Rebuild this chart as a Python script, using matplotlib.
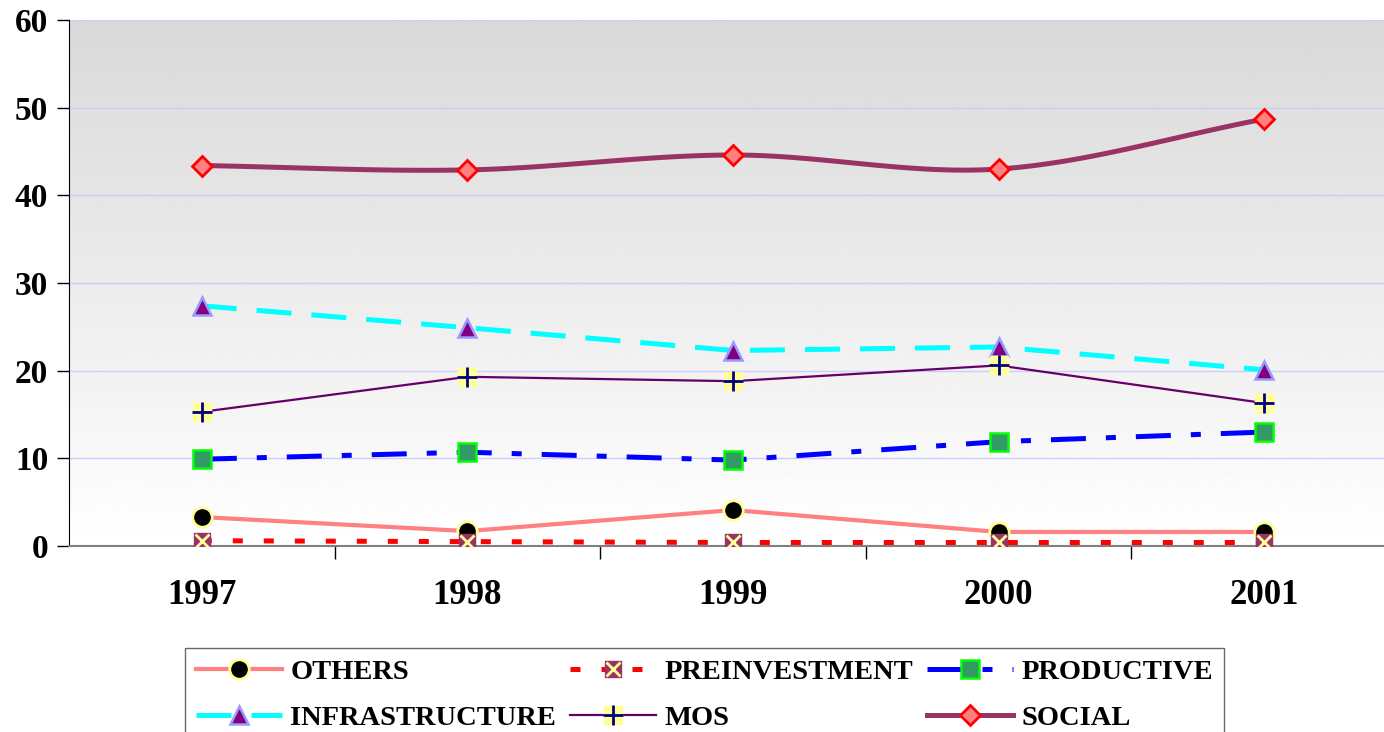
import numpy as np
import matplotlib.pyplot as plt

plt.rcParams['font.family'] = ['Liberation Serif', 'DejaVu Serif']
plt.rcParams['font.weight'] = 'bold'

# ===== Data =====
years = ['1997', '1998', '1999', '2000', '2001']
others = [3.3, 1.7, 4.1, 1.6, 1.6]
preinvestment = [0.6, 0.5, 0.4, 0.4, 0.4]
productive = [9.9, 10.7, 9.8, 11.9, 13.0]
infrastructure = [27.4, 24.9, 22.3, 22.7, 20.1]
mos = [15.3, 19.3, 18.8, 20.6, 16.3]
social = [43.4, 42.9, 44.6, 43.0, 48.7]


def smooth(xs, ys, n=30):
    # Catmull-Rom curve through the points (like Excel's smoothed line)
    xs = np.asarray(xs, float)
    ys = np.asarray(ys, float)
    px = np.concatenate([[2 * xs[0] - xs[1]], xs, [2 * xs[-1] - xs[-2]]])
    py = np.concatenate([[2 * ys[0] - ys[1]], ys, [2 * ys[-1] - ys[-2]]])
    ox, oy = [], []
    t = np.linspace(0, 1, n)
    for i in range(1, len(px) - 2):
        for p, o in ((px, ox), (py, oy)):
            p0, p1, p2, p3 = p[i - 1], p[i], p[i + 1], p[i + 2]
            o.extend(0.5 * (2 * p1 + (-p0 + p2) * t + (2 * p0 - 5 * p1 + 4 * p2 - p3) * t ** 2
                            + (-p0 + 3 * p1 - 3 * p2 + p3) * t ** 3))
    return ox, oy


x = np.arange(1, len(years) + 1)

fig = plt.figure(figsize=(13.84, 7.32), dpi=100)
ax = fig.add_axes([69 / 1384, 1 - 546 / 732, (1397 - 69) / 1384, 526 / 732])

# gradient background: grey at top, white at bottom
grad = np.linspace(0.85, 1.0, 256).reshape(-1, 1)
ax.imshow(grad, cmap='gray', vmin=0, vmax=1, aspect='auto',
          extent=[0.5, 5.5, 0, 60], zorder=0, origin='upper')
ax.set_xlim(0.5, 5.5)
ax.set_ylim(0, 60)

for v in range(10, 61, 10):
    ax.axhline(v, color='#ccccff', lw=1, zorder=1)

# OTHERS
h_oth, = ax.plot(x, others, color='#ff8080', lw=3, marker='o', ms=14,
                 mfc='black', mec='#ffff99', mew=2, zorder=3)
# PREINVESTMENT
h_pre, = ax.plot(x, preinvestment, color='red', lw=3.6, ls=(0, (2, 4.2)),
                 marker='s', ms=11, mfc='#993366', mec='#993366', zorder=3)
h_prex, = ax.plot(x, preinvestment, ls='none', marker='x', ms=10,
                  mec='#ffff99', mew=2, zorder=4)
# PRODUCTIVE
h_pro, = ax.plot(x, productive, color='blue', lw=3.6, ls=(0, (7, 4, 2, 4)),
                 marker='s', ms=13, mfc='#339966', mec='#00ff00', mew=1.8, zorder=3)
# INFRASTRUCTURE
h_inf, = ax.plot(x, infrastructure, color='cyan', lw=3.6, ls=(0, (7, 4)),
                 marker='^', ms=13, mfc='#800080', mec='#9999ff', mew=1.8, zorder=3)
# MOS
h_mos, = ax.plot(x, mos, color='#660066', lw=1.6, marker='s', ms=13,
                 mfc='#ffff99', mec='#ffff99', zorder=3)
h_mosp, = ax.plot(x, mos, ls='none', marker='+', ms=14, mec='#000080', mew=2, zorder=4)
# SOCIAL (smoothed)
sx, sy = smooth(x, social)
h_soc, = ax.plot(sx, sy, color='#993366', lw=3.6, zorder=3)
h_socm, = ax.plot(x, social, ls='none', marker='D', ms=10, mfc='#ff8080',
                  mec='red', mew=2, zorder=4)

# axes styling
for s in ['top', 'right']:
    ax.spines[s].set_visible(False)
ax.spines['left'].set_color('black')
ax.spines['bottom'].set_color('#808080')
ax.spines['bottom'].set_linewidth(1.5)
ax.set_yticks(range(0, 61, 10))
ax.tick_params(axis='y', labelsize=24, length=9, width=1, pad=6)
ax.set_xticks(x)
ax.set_xticklabels(years)
ax.tick_params(axis='x', which='major', length=0, labelsize=25, pad=24)
ax.set_xticks(np.arange(1.5, 5.5, 1), minor=True)
ax.tick_params(axis='x', which='minor', length=9, width=1, direction='out')
for lab in ax.get_xticklabels() + ax.get_yticklabels():
    lab.set_fontweight('bold')

handles = [h_oth, h_inf, (h_pre, h_prex), (h_mos, h_mosp), h_pro, (h_soc, h_socm)]
labels = ['OTHERS', 'INFRASTRUCTURE', 'PREINVESTMENT', 'MOS', 'PRODUCTIVE', 'SOCIAL']
leg = fig.legend(handles, labels, loc='upper left', ncol=3,
                 bbox_to_anchor=(185 / 1384, 1 - 648 / 732), borderaxespad=0,
                 prop={'size': 20.5, 'weight': 'bold'}, frameon=True, fancybox=False,
                 edgecolor='#404040', handlelength=3.0, handletextpad=0.3,
                 columnspacing=0.5, labelspacing=0.7, borderpad=0.4)
leg.get_frame().set_linewidth(1)

fig.savefig('out.png', dpi=100)
